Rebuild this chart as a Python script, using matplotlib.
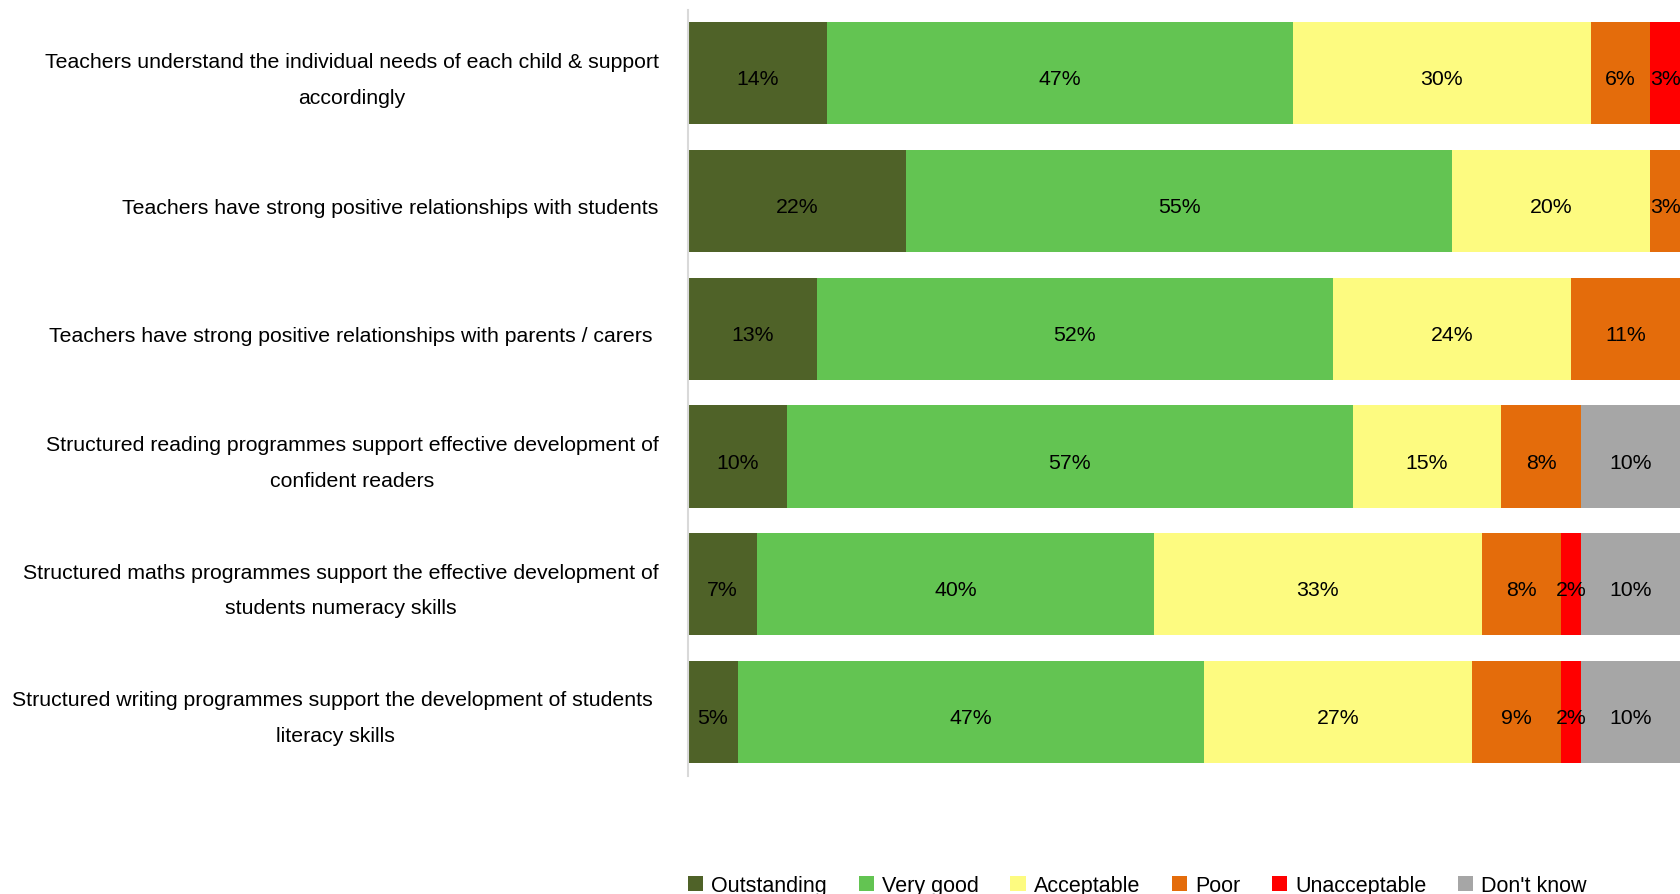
import matplotlib.pyplot as plt
from matplotlib.patches import Patch
from matplotlib.transforms import ScaledTranslation

plt.rcParams['font.family'] = ['Liberation Sans', 'DejaVu Sans']

# survey statements, top to bottom
statements = [
    'Teachers understand the individual needs of each child & support\naccordingly',
    'Teachers have strong positive relationships with students',
    'Teachers have strong positive relationships with parents / carers ',
    'Structured reading programmes support effective development of\nconfident readers',
    'Structured maths programmes support the effective development of\nstudents numeracy skills',
    'Structured writing programmes support the development of students \nliteracy skills',
]

# percentage of responses in each rating
outstanding = [14, 22, 13, 10, 7, 5]
very_good = [47, 55, 52, 57, 40, 47]
acceptable = [30, 20, 24, 15, 33, 27]
poor = [6, 3, 11, 8, 8, 9]
unacceptable = [3, 0, 0, 0, 2, 2]
dont_know = [0, 0, 0, 10, 10, 10]

ratings = ['Outstanding', 'Very good', 'Acceptable', 'Poor', 'Unacceptable', "Don't know"]
series = [outstanding, very_good, acceptable, poor, unacceptable, dont_know]
colors = ['#4f6228', '#63c452', '#fdfb80', '#e46c0b', '#ff0000', '#a6a6a6']

fig = plt.figure(figsize=(16.8, 8.95), dpi=100)
ax = fig.add_axes([0.4095, 0.1322, 0.5905, 0.856])

fs = 15.3
ypos = list(range(len(statements)))
left = [0] * len(statements)
for vals, col in zip(series, colors):
    ax.barh(ypos, vals, left=left, height=0.8, color=col, edgecolor='none')
    for y, v, l in zip(ypos, vals, left):
        if v > 0:
            ax.annotate(f'{v}%', xy=(l + v / 2, y), xytext=(0, -4), textcoords='offset points',
                        ha='center', va='center', fontsize=fs, color='black')
    left = [l + v for l, v in zip(left, vals)]

ax.set_xlim(0, 100)
ax.set_ylim(len(statements) - 0.5, -0.5)
ax.set_xticks([])
ax.set_yticks(ypos)
ax.set_yticklabels(statements, fontsize=fs, linespacing=2.12, multialignment='center')
ax.tick_params(axis='y', length=0, pad=21)
# labels sit a little below the bar centres; two-line ones need pulling up
for lab in ax.get_yticklabels():
    dy = -4.5 if '\n' not in lab.get_text() else 4.5
    lab.set_transform(lab.get_transform() + ScaledTranslation(0, dy / 100, fig.dpi_scale_trans))
for side in ['top', 'right', 'bottom']:
    ax.spines[side].set_visible(False)
ax.spines['left'].set_color('#d9d9d9')
ax.spines['left'].set_linewidth(1.5)

handles = [Patch(facecolor=c, edgecolor='none', label=r) for r, c in zip(ratings, colors)]
fig.legend(handles=handles, loc='lower left', bbox_to_anchor=(0.4095, -0.002), ncol=6,
           frameon=False, fontsize=15.5, borderpad=0, borderaxespad=0,
           handlelength=0.72, handleheight=0.72, handletextpad=0.36, columnspacing=1.47)

fig.savefig('out.png', dpi=100)
